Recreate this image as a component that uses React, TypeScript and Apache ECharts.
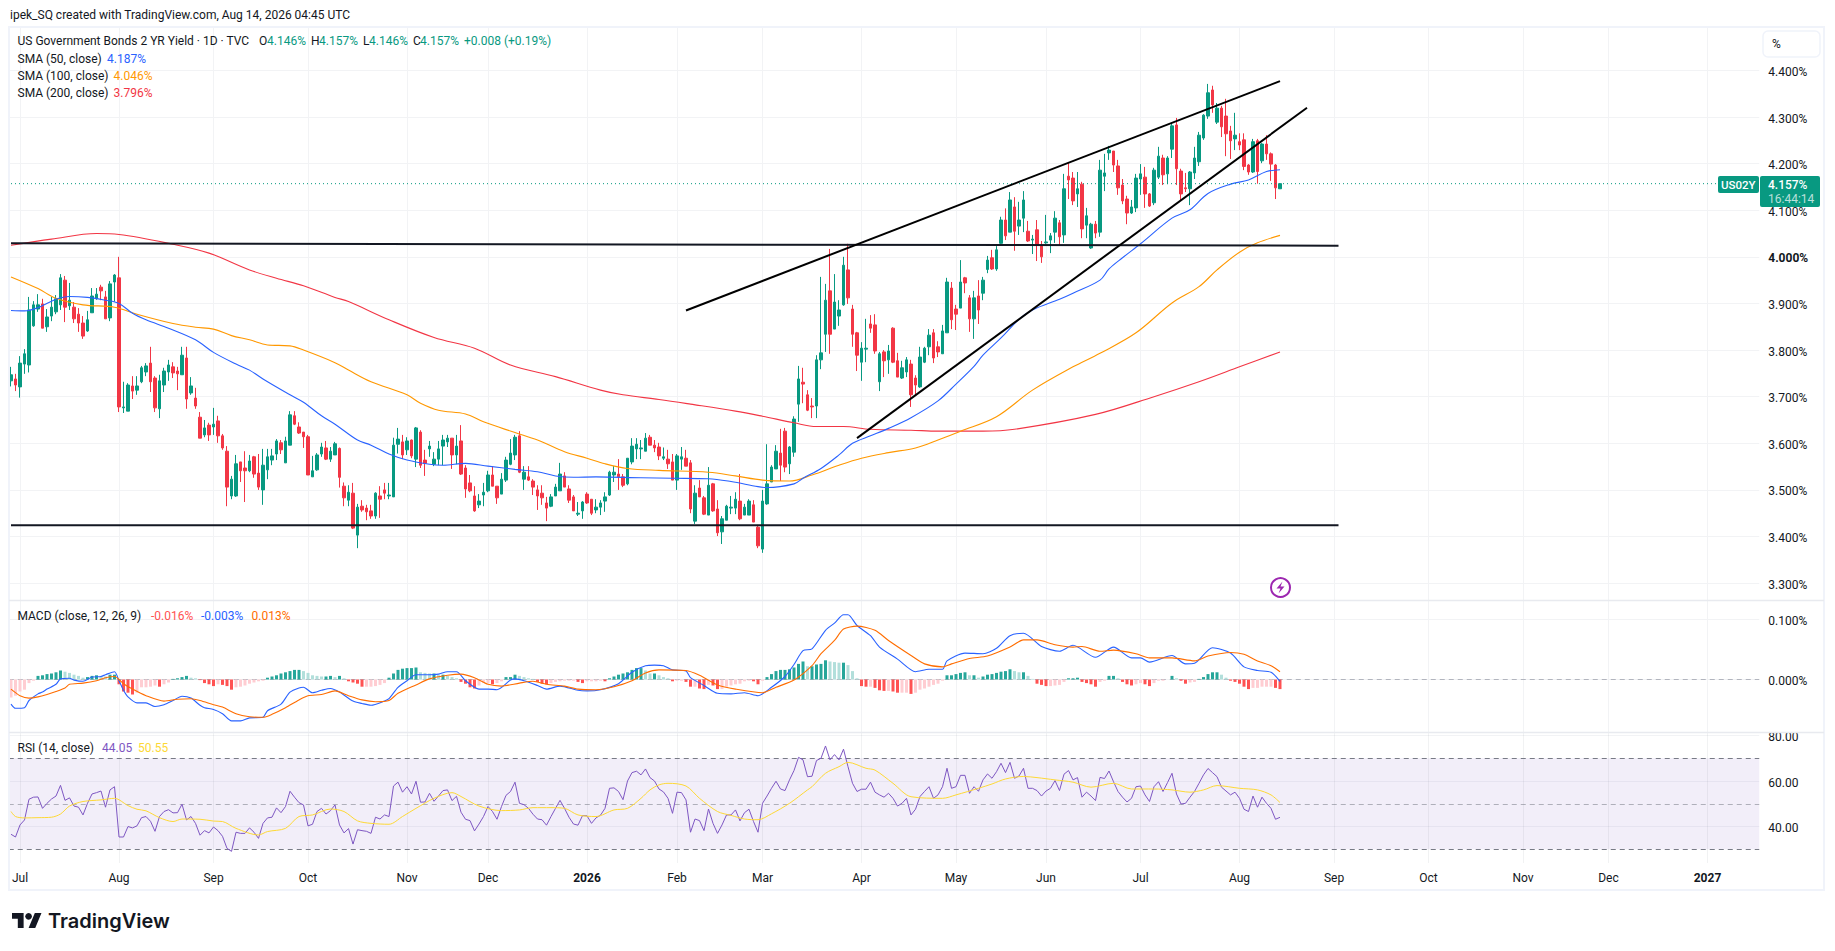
import React, { useEffect, useRef } from "react";
import * as echarts from "echarts";

const FONT = "Roboto";
const INK = "#131722";
const GRID = "#f2f3f5";
const UP = "#089981";
const DOWN = "#f23645";

// one slot per trading day, past and projected
const categories = Array.from({ length: 389 }, (_, i) => String(i));
const monthIndices = [2, 24, 45, 66, 88, 106, 128, 148, 167, 189, 210, 230, 251, 273, 294, 315, 336, 355, 377];
const monthLabels = ["Jul", "Aug", "Sep", "Oct", "Nov", "Dec", "2026", "Feb", "Mar", "Apr", "May", "Jun", "Jul", "Aug", "Sep", "Oct", "Nov", "Dec", "2027"];

const priceTicks = [3.3, 3.4, 3.5, 3.6, 3.7, 3.8, 3.9, 4.0, 4.1, 4.2, 4.3, 4.4];
const macdTicks = [0, 0.1];
const rsiTicks = [40, 60, 80];

// open, high, low, close
const ohlc = [
  [3.734,3.764,3.722,3.747],[3.738,3.749,3.712,3.725],[3.721,3.787,3.698,3.772],[3.770,3.802,3.749,3.792],[3.768,3.914,3.752,3.886],
  [3.852,3.905,3.850,3.897],[3.888,3.920,3.882,3.897],[3.899,3.910,3.847,3.847],[3.850,3.888,3.839,3.871],[3.873,3.914,3.862,3.892],
  [3.882,3.918,3.877,3.910],[3.897,3.963,3.886,3.955],[3.950,3.959,3.860,3.892],[3.895,3.944,3.886,3.907],[3.892,3.903,3.858,3.867],
  [3.877,3.890,3.839,3.858],[3.858,3.873,3.824,3.830],[3.841,3.884,3.839,3.865],[3.880,3.933,3.880,3.916],[3.910,3.933,3.908,3.920],
  [3.935,3.940,3.907,3.927],[3.914,3.927,3.867,3.867],[3.869,3.948,3.862,3.942],[3.946,3.963,3.904,3.961],[3.955,4.000,3.667,3.678],
  [3.676,3.732,3.665,3.678],[3.669,3.729,3.669,3.725],[3.723,3.744,3.695,3.712],[3.714,3.744,3.704,3.723],[3.732,3.766,3.729,3.762],
  [3.753,3.772,3.744,3.766],[3.772,3.807,3.710,3.732],[3.740,3.744,3.667,3.676],[3.674,3.747,3.654,3.734],[3.725,3.762,3.710,3.755],
  [3.753,3.779,3.734,3.768],[3.764,3.774,3.740,3.751],[3.755,3.764,3.714,3.749],[3.747,3.807,3.747,3.789],[3.783,3.807,3.674,3.695],
  [3.708,3.742,3.704,3.723],[3.697,3.719,3.674,3.680],[3.656,3.667,3.611,3.611],[3.618,3.650,3.613,3.633],[3.639,3.644,3.605,3.618],
  [3.635,3.676,3.618,3.641],[3.648,3.659,3.601,3.616],[3.616,3.620,3.586,3.590],[3.583,3.594,3.465,3.506],[3.487,3.530,3.480,3.523],
  [3.487,3.575,3.485,3.556],[3.560,3.560,3.517,3.541],[3.547,3.583,3.474,3.541],[3.541,3.575,3.538,3.562],[3.571,3.573,3.526,3.534],
  [3.536,3.577,3.500,3.506],[3.500,3.588,3.468,3.553],[3.543,3.588,3.523,3.571],[3.564,3.588,3.553,3.573],[3.577,3.609,3.564,3.605],
  [3.601,3.607,3.577,3.586],[3.558,3.614,3.558,3.605],[3.596,3.669,3.596,3.661],[3.659,3.669,3.639,3.641],[3.635,3.645,3.620,3.622],
  [3.624,3.624,3.590,3.614],[3.614,3.618,3.532,3.532],[3.528,3.573,3.528,3.541],[3.543,3.579,3.541,3.575],[3.577,3.601,3.571,3.592],
  [3.590,3.605,3.564,3.566],[3.566,3.592,3.560,3.583],[3.575,3.603,3.575,3.599],[3.589,3.591,3.505,3.527],[3.508,3.516,3.465,3.483],
  [3.478,3.510,3.465,3.495],[3.493,3.515,3.416,3.418],[3.403,3.470,3.375,3.463],[3.465,3.478,3.453,3.457],[3.461,3.468,3.435,3.453],
  [3.455,3.468,3.438,3.444],[3.444,3.495,3.438,3.493],[3.487,3.508,3.440,3.480],[3.500,3.515,3.480,3.493],[3.487,3.515,3.480,3.489],
  [3.485,3.612,3.485,3.596],[3.598,3.633,3.578,3.609],[3.603,3.618,3.566,3.575],[3.586,3.613,3.575,3.605],[3.607,3.608,3.568,3.573],
  [3.566,3.635,3.549,3.633],[3.624,3.628,3.547,3.553],[3.564,3.586,3.530,3.557],[3.588,3.605,3.571,3.594],[3.555,3.581,3.551,3.566],
  [3.566,3.605,3.553,3.588],[3.594,3.618,3.553,3.607],[3.603,3.618,3.592,3.611],[3.611,3.611,3.545,3.575],[3.575,3.618,3.555,3.594],
  [3.605,3.639,3.532,3.534],[3.547,3.553,3.483,3.502],[3.515,3.532,3.495,3.498],[3.487,3.508,3.453,3.455],[3.468,3.491,3.461,3.476],
  [3.489,3.515,3.465,3.495],[3.498,3.541,3.495,3.532],[3.532,3.551,3.508,3.508],[3.508,3.508,3.470,3.483],[3.491,3.536,3.491,3.523],
  [3.521,3.571,3.517,3.564],[3.555,3.609,3.553,3.579],[3.575,3.618,3.564,3.613],[3.616,3.626,3.536,3.538],[3.523,3.551,3.500,3.538],
  [3.528,3.551,3.519,3.521],[3.519,3.523,3.489,3.506],[3.500,3.510,3.457,3.487],[3.493,3.510,3.468,3.483],[3.472,3.485,3.433,3.461],
  [3.465,3.491,3.463,3.485],[3.487,3.513,3.487,3.506],[3.498,3.558,3.498,3.534],[3.530,3.538,3.506,3.506],[3.502,3.510,3.472,3.478],
  [3.485,3.489,3.455,3.455],[3.448,3.474,3.444,3.450],[3.455,3.476,3.438,3.474],[3.491,3.495,3.470,3.472],[3.480,3.480,3.446,3.450],
  [3.457,3.480,3.450,3.463],[3.463,3.478,3.446,3.472],[3.476,3.495,3.453,3.485],[3.489,3.541,3.487,3.538],[3.532,3.551,3.517,3.538],
  [3.534,3.566,3.500,3.528],[3.528,3.534,3.506,3.510],[3.513,3.568,3.510,3.568],[3.560,3.611,3.555,3.594],[3.588,3.611,3.566,3.598],
  [3.588,3.607,3.566,3.590],[3.583,3.622,3.583,3.611],[3.613,3.618,3.596,3.596],[3.596,3.607,3.581,3.590],[3.592,3.601,3.564,3.573],
  [3.568,3.591,3.564,3.571],[3.566,3.586,3.545,3.556],[3.560,3.577,3.521,3.521],[3.521,3.577,3.500,3.573],[3.566,3.592,3.543,3.571],
  [3.568,3.586,3.551,3.551],[3.558,3.564,3.450,3.459],[3.433,3.510,3.427,3.493],[3.504,3.521,3.485,3.485],[3.483,3.487,3.446,3.448],
  [3.446,3.549,3.446,3.510],[3.513,3.515,3.453,3.455],[3.459,3.478,3.401,3.408],[3.410,3.444,3.384,3.438],[3.435,3.468,3.435,3.465],
  [3.461,3.487,3.448,3.463],[3.461,3.495,3.448,3.480],[3.476,3.534,3.435,3.438],[3.446,3.470,3.446,3.463],[3.446,3.480,3.446,3.476],
  [3.468,3.478,3.431,3.431],[3.420,3.425,3.375,3.380],[3.373,3.500,3.365,3.476],[3.470,3.598,3.468,3.513],[3.517,3.553,3.517,3.549],
  [3.545,3.596,3.545,3.583],[3.579,3.631,3.519,3.553],[3.626,3.633,3.538,3.549],[3.556,3.594,3.534,3.592],[3.581,3.658,3.571,3.652],
  [3.684,3.766,3.646,3.738],[3.731,3.762,3.686,3.727],[3.704,3.714,3.669,3.671],[3.680,3.697,3.654,3.678],[3.680,3.789,3.654,3.779],
  [3.779,3.957,3.759,3.794],[3.834,3.942,3.796,3.907],[3.927,4.017,3.792,3.834],[3.845,3.963,3.845,3.903],[3.873,3.907,3.852,3.886],
  [3.897,4.000,3.895,3.982],[3.972,4.028,3.899,3.912],[3.888,3.897,3.807,3.834],[3.837,3.839,3.755,3.789],[3.774,3.817,3.734,3.804],
  [3.802,3.867,3.774,3.804],[3.856,3.875,3.837,3.847],[3.854,3.877,3.792,3.798],[3.732,3.796,3.712,3.792],[3.796,3.800,3.742,3.777],
  [3.779,3.811,3.749,3.798],[3.847,3.849,3.772,3.774],[3.777,3.794,3.742,3.742],[3.740,3.777,3.738,3.762],[3.753,3.785,3.742,3.779],
  [3.770,3.779,3.678,3.704],[3.740,3.746,3.704,3.725],[3.721,3.807,3.719,3.785],[3.774,3.807,3.772,3.804],[3.807,3.845,3.789,3.832],
  [3.837,3.845,3.772,3.783],[3.807,3.819,3.785,3.796],[3.792,3.854,3.792,3.841],[3.837,3.955,3.837,3.946],[3.933,3.946,3.845,3.865],
  [3.888,3.897,3.843,3.877],[3.890,3.993,3.890,3.946],[3.955,3.957,3.922,3.944],[3.912,3.918,3.839,3.867],[3.867,3.927,3.824,3.912],
  [3.916,3.950,3.856,3.886],[3.922,3.957,3.907,3.950],[3.973,4.002,3.965,3.993],[3.998,4.015,3.972,3.974],[3.974,4.023,3.970,4.015],
  [4.029,4.086,4.028,4.079],[4.079,4.104,4.036,4.045],[4.053,4.139,4.053,4.122],[4.107,4.128,4.013,4.055],[4.066,4.118,4.047,4.079],
  [4.083,4.141,4.053,4.122],[4.055,4.077,4.032,4.034],[4.036,4.047,4.006,4.038],[4.058,4.079,3.991,4.025],[4.023,4.034,3.987,4.000],
  [4.030,4.090,4.028,4.032],[4.036,4.051,4.008,4.045],[4.053,4.098,4.030,4.083],[4.073,4.079,4.025,4.043],[4.047,4.178,4.030,4.146],
  [4.173,4.201,4.124,4.165],[4.169,4.182,4.111,4.120],[4.135,4.182,4.107,4.146],[4.156,4.161,4.040,4.060],[4.068,4.105,4.040,4.088],
  [4.019,4.073,4.017,4.070],[4.070,4.077,4.040,4.051],[4.053,4.208,4.043,4.186],[4.173,4.221,4.141,4.180],[4.223,4.238,4.208,4.229],
  [4.227,4.227,4.182,4.197],[4.195,4.208,4.133,4.148],[4.154,4.167,4.113,4.120],[4.124,4.131,4.070,4.094],[4.094,4.122,4.092,4.107],
  [4.105,4.178,4.096,4.169],[4.167,4.199,4.133,4.178],[4.171,4.193,4.105,4.135],[4.135,4.137,4.107,4.109],[4.116,4.191,4.111,4.186],
  [4.171,4.236,4.167,4.216],[4.212,4.219,4.154,4.176],[4.178,4.216,4.156,4.212],[4.231,4.287,4.212,4.281],[4.283,4.298,4.154,4.189],
  [4.184,4.189,4.122,4.135],[4.148,4.180,4.139,4.146],[4.146,4.184,4.111,4.182],[4.180,4.236,4.167,4.212],[4.204,4.268,4.195,4.261],
  [4.255,4.306,4.251,4.304],[4.302,4.371,4.296,4.352],[4.358,4.367,4.309,4.326],[4.289,4.330,4.285,4.319],[4.319,4.324,4.257,4.279],
  [4.302,4.339,4.216,4.264],[4.270,4.281,4.210,4.249],[4.253,4.309,4.229,4.261],[4.247,4.265,4.229,4.240],[4.251,4.265,4.186,4.194],
  [4.197,4.199,4.176,4.182],[4.182,4.253,4.180,4.247],[4.249,4.253,4.157,4.183],[4.206,4.244,4.201,4.242],[4.242,4.261,4.208,4.221],
  [4.221,4.224,4.163,4.199],[4.197,4.199,4.124,4.148],[4.146,4.157,4.146,4.157],
];

// [bar, value]
const sma50 = [[0,3.885],[3,3.884],[6,3.891],[10,3.909],[13,3.915],[17,3.913],[21,3.907],[24,3.900],[27,3.879],[30,3.865],[35,3.847],[41,3.822],[45,3.795],[50,3.770],[53,3.757],[56,3.738],[62,3.704],[65,3.688],[69,3.659],[72,3.641],[77,3.607],[80,3.596],[84,3.577],[88,3.564],[93,3.555],[96,3.553],[101,3.557],[106,3.551],[112,3.544],[117,3.539],[121,3.530],[125,3.527],[130,3.528],[140,3.526],[147,3.525],[155,3.524],[160,3.518],[166,3.507],[168,3.505],[174,3.513],[176,3.525],[180,3.546],[184,3.575],[187,3.600],[191,3.616],[195,3.632],[200,3.655],[206,3.691],[210,3.727],[214,3.765],[216,3.789],[220,3.826],[224,3.866],[227,3.886],[233,3.909],[236,3.922],[242,3.950],[244,3.974],[247,3.998],[251,4.028],[258,4.083],[262,4.101],[266,4.136],[271,4.156],[275,4.165],[279,4.183],[282,4.187]];
const sma100 = [[0,3.957],[6,3.932],[10,3.911],[16,3.897],[23,3.892],[28,3.877],[36,3.857],[41,3.849],[45,3.845],[49,3.831],[53,3.822],[57,3.811],[62,3.809],[65,3.800],[72,3.773],[75,3.757],[80,3.732],[88,3.704],[91,3.686],[95,3.671],[101,3.663],[105,3.646],[112,3.623],[117,3.607],[123,3.582],[128,3.568],[132,3.556],[137,3.546],[144,3.542],[155,3.538],[161,3.530],[167,3.521],[173,3.519],[178,3.532],[184,3.553],[189,3.568],[195,3.580],[201,3.590],[206,3.607],[211,3.626],[219,3.657],[227,3.714],[236,3.764],[242,3.793],[250,3.837],[258,3.901],[264,3.936],[268,3.972],[273,4.010],[277,4.030],[282,4.046]];
const sma200 = [[0,4.025],[9,4.038],[19,4.050],[24,4.048],[36,4.027],[44,4.008],[53,3.972],[59,3.954],[65,3.938],[72,3.913],[75,3.904],[84,3.865],[94,3.827],[103,3.804],[111,3.768],[121,3.743],[131,3.714],[136,3.704],[144,3.694],[151,3.684],[161,3.669],[167,3.658],[174,3.644],[179,3.636],[185,3.636],[191,3.630],[200,3.628],[206,3.626],[216,3.626],[223,3.630],[241,3.662],[254,3.700],[264,3.732],[273,3.764],[282,3.796]];

// hand-drawn lines on the price pane
const resistanceLevel = [[0,4.029],[295,4.024]];
const supportLevel = [[0,3.424],[295,3.424]];
const upperTrend = [[150,3.885],[282,4.377]];
const lowerTrend = [[188,3.611],[288,4.320]];
const lastPriceLine = [[0,4.157],[388,4.157]];

const macdLine = [[0,-0.041],[1,-0.048],[3,-0.047],[4,-0.035],[6,-0.024],[7,-0.021],[8,-0.016],[10,-0.008],[11,0.001],[13,0.002],[14,-0.001],[16,-0.003],[18,0.004],[20,0.005],[21,0.008],[23,0.013],[24,-0.002],[25,-0.018],[26,-0.029],[28,-0.039],[30,-0.039],[32,-0.045],[34,-0.042],[36,-0.035],[38,-0.028],[40,-0.031],[42,-0.043],[43,-0.047],[45,-0.050],[47,-0.057],[49,-0.069],[51,-0.069],[53,-0.064],[56,-0.063],[57,-0.052],[60,-0.041],[62,-0.021],[64,-0.014],[65,-0.013],[67,-0.022],[69,-0.018],[71,-0.015],[73,-0.021],[76,-0.036],[78,-0.040],[80,-0.043],[83,-0.036],[84,-0.032],[86,-0.013],[88,-0.002],[90,0.008],[93,0.008],[95,0.009],[97,0.013],[99,0.013],[101,-0.002],[104,-0.016],[106,-0.016],[108,-0.017],[111,-0.001],[112,0.001],[114,-0.002],[117,-0.010],[119,-0.016],[122,-0.011],[126,-0.018],[128,-0.019],[131,-0.017],[135,-0.007],[138,0.012],[141,0.023],[143,0.024],[145,0.023],[147,0.016],[150,0.014],[151,0.003],[154,-0.010],[157,-0.023],[160,-0.024],[163,-0.022],[166,-0.027],[169,-0.013],[172,0.005],[174,0.025],[176,0.048],[178,0.051],[181,0.082],[183,0.094],[185,0.108],[186,0.108],[188,0.090],[191,0.073],[193,0.054],[197,0.034],[201,0.013],[204,0.017],[207,0.017],[208,0.031],[212,0.044],[216,0.043],[219,0.052],[222,0.073],[225,0.077],[229,0.055],[233,0.047],[236,0.057],[241,0.037],[245,0.054],[249,0.036],[251,0.036],[253,0.029],[258,0.040],[261,0.026],[263,0.027],[267,0.053],[271,0.044],[274,0.021],[277,0.015],[280,0.012],[282,-0.003]];
const signalLine = [[0,-0.016],[2,-0.027],[4,-0.031],[6,-0.029],[8,-0.025],[10,-0.020],[12,-0.014],[13,-0.008],[16,-0.006],[19,-0.002],[21,0.003],[23,0.005],[25,-0.007],[27,-0.016],[30,-0.027],[34,-0.036],[37,-0.033],[40,-0.032],[42,-0.035],[45,-0.042],[47,-0.046],[50,-0.057],[53,-0.062],[56,-0.063],[58,-0.058],[61,-0.047],[64,-0.034],[66,-0.027],[69,-0.025],[72,-0.019],[75,-0.027],[78,-0.034],[81,-0.037],[84,-0.035],[86,-0.023],[90,-0.009],[93,0.001],[97,0.007],[100,0.009],[103,0.003],[106,-0.008],[109,-0.011],[113,-0.006],[116,-0.003],[119,-0.008],[123,-0.011],[126,-0.016],[130,-0.017],[134,-0.012],[138,-0.002],[141,0.011],[144,0.016],[150,0.015],[153,0.007],[157,-0.009],[161,-0.016],[167,-0.022],[170,-0.013],[174,-0.001],[178,0.023],[180,0.043],[183,0.065],[185,0.084],[188,0.089],[192,0.082],[195,0.065],[200,0.040],[203,0.026],[207,0.021],[209,0.026],[213,0.035],[217,0.039],[222,0.054],[225,0.066],[228,0.066],[232,0.058],[236,0.054],[238,0.055],[242,0.047],[245,0.049],[250,0.043],[253,0.036],[258,0.036],[263,0.031],[266,0.039],[271,0.045],[274,0.042],[277,0.031],[280,0.023],[282,0.013]];

// MACD histogram, in thousandths of a percent, ten bars per row
const histogram = [
  -30,-27,-20,-17,-6,-2,6,7,9,10,
  12,15,13,11,8,6,3,4,6,7,
  6,5,8,8,-8,-20,-22,-25,-22,-13,
  -13,-12,-10,-12,-8,-5,1,2,4,6,
  3,2,-1,-6,-8,-11,-8,-9,-11,-17,
  -13,-12,-10,-7,-5,-3,-2,3,5,7,
  10,12,14,16,16,14,11,7,6,5,
  5,6,4,6,2,-3,-5,-7,-12,-12,
  -12,-11,-9,-6,3,10,16,18,19,19,
  20,12,11,10,10,8,8,6,4,2,
  -4,-7,-13,-15,-10,-6,-6,-8,-6,-3,
  4,4,8,6,4,2,1,-4,-7,-8,
  -6,-4,-3,-2,-2,-2,-4,-6,-3,-3,
  -3,-2,-3,2,5,8,10,12,16,19,
  19,15,10,10,7,4,2,-3,-2,-2,
  -4,-12,-12,-15,-16,-9,-10,-16,-16,-12,
  -10,-8,-7,-3,-2,-3,-8,-2,4,9,
  14,16,16,17,20,26,30,22,22,25,
  26,32,30,29,28,28,24,14,2,-11,
  -12,-12,-14,-18,-19,-19,-20,-22,-22,-22,
  -24,-22,-17,-15,-12,-9,-7,-2,7,7,
  9,11,12,7,7,3,5,8,9,11,
  13,14,17,14,12,12,6,1,-7,-9,
  -11,-11,-10,-9,-4,2,2,3,-4,-6,
  -8,-12,-4,-2,6,6,2,-4,-8,-10,
  -8,-6,-8,-11,-6,-2,-2,0,6,2,
  -2,-7,-5,-4,1,4,9,12,12,8,
  3,-2,-4,-7,-12,-16,-14,-14,-12,-12,
  -12,-14,-16,
];

const rsiValues = [
  36.6,35.4,40.7,42.9,52.0,52.9,53.0,48.0,50.2,52.1,53.4,58.1,51.5,52.6,49.0,48.5,45.1,50.2,54.3,54.9,
  55.6,48.5,56.1,57.5,35.4,35.4,40.0,39.4,40.3,43.9,44.4,42.3,37.9,44.4,46.6,47.4,46.0,46.1,49.8,42.9,
  44.4,41.4,36.2,38.2,37.2,39.8,38.2,35.7,30.4,29.1,37.5,37.0,37.0,39.4,37.5,34.8,41.4,43.8,44.1,48.2,
  46.1,48.8,55.5,52.9,50.5,49.5,40.3,41.0,46.6,48.0,45.5,47.0,49.5,40.7,37.2,39.1,32.3,38.6,38.2,37.9,
  37.0,44.1,43.3,45.1,44.4,57.8,59.5,55.1,57.5,54.3,59.9,50.7,50.8,54.6,51.1,53.4,55.8,56.1,51.4,53.3,
  46.3,43.2,42.6,38.1,41.1,44.4,48.8,46.6,43.2,48.8,53.7,55.4,59.5,50.2,49.6,48.0,45.4,43.3,43.0,40.6,
  44.4,48.0,51.5,48.0,44.1,41.1,40.6,44.8,44.7,41.4,43.8,45.0,48.0,56.8,57.0,55.4,51.8,60.0,63.7,64.3,
  62.7,65.3,61.5,60.0,56.5,55.2,52.4,45.8,55.1,54.9,51.7,37.5,43.3,42.6,38.2,47.7,41.4,37.0,40.7,45.1,
  45.1,47.3,42.5,46.1,47.6,42.2,37.5,50.2,53.4,56.8,59.9,56.5,55.8,60.5,64.6,70.4,69.3,61.9,62.1,69.0,
  70.0,75.4,69.3,71.6,69.3,74.0,66.3,59.0,55.4,56.4,56.4,59.5,55.1,53.9,52.9,54.6,52.4,49.0,50.2,52.4,
  45.1,47.6,53.2,55.4,57.5,52.4,53.9,57.5,65.6,56.8,57.5,62.5,62.5,54.6,57.5,55.5,60.5,63.1,61.2,64.1,
  67.8,63.7,68.2,61.2,62.2,65.6,56.8,56.8,55.8,53.4,55.6,56.8,60.2,55.8,63.0,64.6,60.5,61.5,52.9,55.1,
  53.4,51.4,61.6,61.1,64.4,59.7,55.4,52.9,50.8,52.4,57.5,57.8,53.9,51.0,57.5,59.7,55.4,59.3,63.4,54.3,
  49.9,50.2,52.9,55.4,59.0,62.7,65.5,63.7,61.9,57.3,55.6,53.9,55.1,52.4,47.6,46.6,53.4,48.5,52.9,50.2,
  48.0,43.2,44.05,
];
const rsiAverage = [[0,46.6],[1,44.4],[3,43.8],[6,43.9],[9,44.1],[11,45.5],[13,49.0],[16,51.0],[20,51.7],[23,52.4],[26,49.2],[28,47.6],[30,46.9],[33,43.9],[36,42.2],[38,43.3],[42,43.2],[45,42.4],[47,42.2],[50,39.2],[55,36.3],[57,37.8],[61,39.2],[64,44.4],[67,45.1],[71,47.7],[74,46.6],[77,42.5],[80,41.4],[84,41.0],[87,44.4],[90,48.0],[94,52.4],[98,54.9],[100,53.2],[104,49.0],[109,47.0],[113,47.3],[116,48.3],[120,48.3],[123,48.0],[126,45.1],[130,44.4],[134,47.3],[137,48.0],[140,52.4],[142,56.1],[144,58.3],[146,59.0],[150,57.8],[153,52.4],[157,46.6],[160,44.9],[163,43.3],[166,43.0],[169,45.6],[173,50.2],[177,56.1],[178,57.5],[181,63.4],[184,66.3],[186,68.2],[190,65.6],[192,64.8],[196,59.0],[200,53.1],[207,52.4],[210,53.9],[215,56.8],[218,58.7],[221,60.9],[225,62.0],[228,61.5],[232,60.5],[236,59.5],[240,57.3],[245,59.0],[249,56.5],[254,56.5],[258,56.1],[262,55.1],[265,56.1],[268,58.0],[273,56.8],[277,56.1],[280,53.9],[282,50.55]];

const tvLogoPath = "M14 22H7V11H0V4h14v18zM28 22h-8l7.5-18h8L28 22z";
echarts.graphic.registerShape("tvLogo", echarts.graphic.extendPath(tvLogoPath, {}) as any);

const LEFT = 8.75;
const WIDTH = 1750.5;

function label(text: string, x: number, y: number, fill = INK, size = 12, weight: any = 400, family = FONT, extra: any = {}) {
  return {
    type: "text", x, y, z: 100, silent: true,
    style: { text, fill, fontSize: size, fontWeight: weight, fontFamily: family, verticalAlign: "middle", align: "left", ...extra },
  };
}

function histColor(i: number) {
  const v = histogram[i];
  const prev = i > 0 ? histogram[i - 1] : v;
  if (v >= 0) return v >= prev ? "#26a69a" : "#b2dfdb";
  return v >= prev ? "#ffcdd2" : "#ff5252";
}

const verticalGrid = {
  silent: true, symbol: "none", z: 1, animation: false, label: { show: false },
  lineStyle: { color: GRID, width: 1, type: "solid" },
  data: monthIndices.map((i) => ({ xAxis: i })),
};

function xAxisFor(gridIndex: number, showLabels: boolean) {
  return {
    type: "category", gridIndex, data: categories, boundaryGap: true,
    axisLine: { show: false }, axisTick: { show: false }, splitLine: { show: false },
    axisLabel: {
      show: showLabels, margin: 9, fontFamily: FONT, fontSize: 12, color: INK,
      interval: (index: number) => monthIndices.includes(index),
      formatter: (value: string) => {
        const t = monthLabels[monthIndices.indexOf(Number(value))] ?? "";
        return t.length === 4 ? `{y|${t}}` : t;
      },
      rich: { y: { fontFamily: FONT, fontSize: 12, fontWeight: 700, color: INK } },
    },
  };
}

function yAxisFor(gridIndex: number, min: number, max: number, ticks: number[], fmt: (v: number) => string, gridLines = true) {
  return {
    type: "value", gridIndex, position: "right", min, max, scale: true,
    axisLine: { show: false },
    axisTick: { show: false, customValues: ticks },
    splitLine: { show: gridLines, lineStyle: { color: GRID, width: 1 } },
    axisLabel: {
      margin: 9, fontFamily: FONT, fontSize: 12, color: INK, customValues: ticks, formatter: fmt, padding: [3, 0, 0, 0],
      rich: { b: { fontFamily: FONT, fontSize: 12, fontWeight: 700, color: INK } },
    },
  };
}

function lineOf(name: string, data: number[][], color: string, xAxisIndex: number, yAxisIndex: number, width = 1, type: any = "solid", z = 3, smooth: any = false) {
  return {
    name, type: "line", data, xAxisIndex, yAxisIndex, symbol: "none", showSymbol: false, silent: true, z, smooth,
    lineStyle: { color, width, type }, itemStyle: { color },
  };
}

export default function App() {
  const ref = useRef<HTMLDivElement>(null);
  useEffect(() => {
    const chart = echarts.init(ref.current!, undefined, { renderer: "svg" });
    const graphics: any[] = [
      // clips the top of the 80.00 label at the pane edge
      { type: "rect", z: 90, silent: true, shape: { x: 1760, y: 726, width: 62, height: 7 }, style: { fill: "#ffffff" } },
      { type: "rect", z: 91, silent: true, shape: { x: 9, y: 27, width: 1815, height: 863 }, style: { fill: "none", stroke: "#f0f3fa", lineWidth: 2 } },
      { type: "line", z: 91, silent: true, shape: { x1: 9, y1: 600.5, x2: 1824, y2: 600.5 }, style: { stroke: "#e8eaef", lineWidth: 1.5 } },
      { type: "line", z: 91, silent: true, shape: { x1: 9, y1: 732.5, x2: 1824, y2: 732.5 }, style: { stroke: "#e8eaef", lineWidth: 1.5 } },

      label("ipek_SQ created with TradingView.com, Aug 14, 2026 04:45 UTC", 10, 15),

      label("US Government Bonds 2 YR Yield · 1D · TVC", 17.5, 41),
      label("O", 259, 41), label("4.146%", 267, 41, UP),
      label("H", 311, 41), label("4.157%", 319, 41, UP),
      label("L", 363, 41), label("4.146%", 369, 41, UP),
      label("C", 413, 41), label("4.157%", 420, 41, UP),
      label("+0.008 (+0.19%)", 464, 41, UP),
      label("SMA (50, close)", 17.5, 58.5), label("4.187%", 107, 58.5, "#2962ff"),
      label("SMA (100, close)", 17.5, 76), label("4.046%", 113.5, 76, "#ff9800"),
      label("SMA (200, close)", 17.5, 92.5), label("3.796%", 113.5, 92.5, DOWN),

      label("MACD (close, 12, 26, 9)", 17.5, 615.5),
      label("-0.016%", 151, 615.5, "#ff5252"), label("-0.003%", 201, 615.5, "#2962ff"), label("0.013%", 251.5, 615.5, "#ff6d00"),
      label("RSI (14, close)", 17.5, 748),
      label("44.05", 102, 748, "#7e57c2"), label("50.55", 138, 748, "#fdd835"),

      { type: "rect", z: 95, silent: true, shape: { x: 1763, y: 31, width: 57, height: 26, r: 5 }, style: { fill: "#ffffff", stroke: "#f0f3fa", lineWidth: 1.5 } },
      label("%", 1772, 44),

      { type: "rect", z: 95, silent: true, shape: { x: 1718, y: 176, width: 41, height: 17, r: 2 }, style: { fill: UP } },
      label("US02Y", 1721, 184.5, "#ffffff", 11.5, 500),
      { type: "rect", z: 95, silent: true, shape: { x: 1760, y: 176, width: 60, height: 31, r: 2 }, style: { fill: UP } },
      label("4.157%", 1768, 184.5, "#ffffff", 12, 500),
      label("16:44:14", 1768, 199, "rgba(255,255,255,0.72)", 12),

      { type: "circle", z: 95, silent: true, shape: { cx: 1280.5, cy: 587.5, r: 9.5 }, style: { fill: "#ffffff", stroke: "#9c27b0", lineWidth: 2 } },
      { type: "polygon", z: 96, silent: true, shape: { points: [[1282.5, 581.5], [1276.5, 588.5], [1280.5, 588.5], [1278.5, 593.5], [1284.5, 586.5], [1280.5, 586.5]] }, style: { fill: "#9c27b0" } },

      { type: "tvLogo", z: 100, silent: true, x: 12, y: 909.7, scaleX: 0.83, scaleY: 0.83, style: { fill: INK } },
      { type: "circle", z: 100, silent: true, shape: { cx: 12 + 20 * 0.83, cy: 909.7 + 8 * 0.83, r: 4 * 0.83 }, style: { fill: INK } },
      label("TradingView", 48, 921, INK, 20, 600, "Inter"),
    ];

    chart.setOption({
      animation: false,
      backgroundColor: "#ffffff",
      tooltip: { show: false },
      legend: { show: false },
      grid: [
        { left: LEFT, width: WIDTH, top: 27, height: 573 },
        { left: LEFT, width: WIDTH, top: 601, height: 131 },
        { left: LEFT, width: WIDTH, top: 733, height: 130 },
      ],
      xAxis: [xAxisFor(0, false), xAxisFor(1, false), xAxisFor(2, true)],
      yAxis: [
        yAxisFor(0, 3.2638, 4.4931, priceTicks, (v) => (v === 4 ? `{b|${v.toFixed(3)}%}` : `${v.toFixed(3)}%`)),
        yAxisFor(1, -0.0875, 0.1308, macdTicks, (v) => `${v.toFixed(3)}%`),
        yAxisFor(2, 23.98, 81.1, rsiTicks, (v) => v.toFixed(2)),
      ],
      graphic: { elements: graphics },
      series: [
        {
          name: "US02Y", type: "candlestick", xAxisIndex: 0, yAxisIndex: 0, silent: true, z: 2, barWidth: 3,
          data: ohlc.map(([o, h, l, c]) => [o, c, l, h]),
          itemStyle: { color: UP, color0: DOWN, borderColor: UP, borderColor0: DOWN, borderWidth: 1 },
          markLine: verticalGrid,
        },
        lineOf("SMA 200", sma200, DOWN, 0, 0, 1.1, "solid", 3, 0.35),
        lineOf("SMA 100", sma100, "#ff9800", 0, 0, 1.1, "solid", 3, 0.35),
        lineOf("SMA 50", sma50, "#2962ff", 0, 0, 1.1, "solid", 3, 0.35),
        lineOf("Last price", lastPriceLine, UP, 0, 0, 1, [1, 3]),
        lineOf("Resistance", resistanceLevel, INK, 0, 0, 2, "solid", 4),
        lineOf("Support", supportLevel, INK, 0, 0, 2, "solid", 4),
        lineOf("Upper trend", upperTrend, "#000000", 0, 0, 2, "solid", 4),
        lineOf("Lower trend", lowerTrend, "#000000", 0, 0, 2, "solid", 4),
        {
          name: "Histogram", type: "bar", xAxisIndex: 1, yAxisIndex: 1, silent: true, barWidth: 3, z: 2,
          data: histogram.map((v, i) => ({ value: v / 1000, itemStyle: { color: histColor(i) } })),
          markLine: {
            silent: true, symbol: "none", z: 1, label: { show: false },
            data: [
              ...monthIndices.map((i) => ({ xAxis: i, lineStyle: { color: GRID, width: 1, type: "solid" } })),
              { yAxis: 0, lineStyle: { color: "#b2b5be", width: 1, type: [5, 4] } },
            ],
          },
        },
        lineOf("MACD", macdLine, "#2962ff", 1, 1, 1.1, "solid", 3, 0.25),
        lineOf("Signal", signalLine, "#ff6d00", 1, 1, 1.1, "solid", 3, 0.25),
        {
          ...lineOf("RSI", rsiValues.map((v, i) => [i, v]), "#7e57c2", 2, 2, 1),
          markArea: { silent: true, z: 0, itemStyle: { color: "rgba(126,87,194,0.1)" }, data: [[{ yAxis: 70 }, { yAxis: 30 }]] },
          markLine: {
            silent: true, symbol: "none", z: 1, label: { show: false },
            data: [
              ...monthIndices.map((i) => ({ xAxis: i, lineStyle: { color: "rgba(120,123,134,0.1)", width: 1, type: "solid" } })),
              { yAxis: 70, lineStyle: { color: "#787b86", width: 1, type: [5, 4] } },
              { yAxis: 50, lineStyle: { color: "rgba(120,123,134,0.55)", width: 1, type: [5, 4] } },
              { yAxis: 30, lineStyle: { color: "#787b86", width: 1, type: [5, 4] } },
            ],
          },
        },
        lineOf("RSI average", rsiAverage, "#fdd835", 2, 2, 1, "solid", 3, 0.3),
      ],
    });
    return () => chart.dispose();
  }, []);
  return <div ref={ref} style={{ position: "absolute", left: 0, top: 0, width: 1835, height: 951 }} />;
}
